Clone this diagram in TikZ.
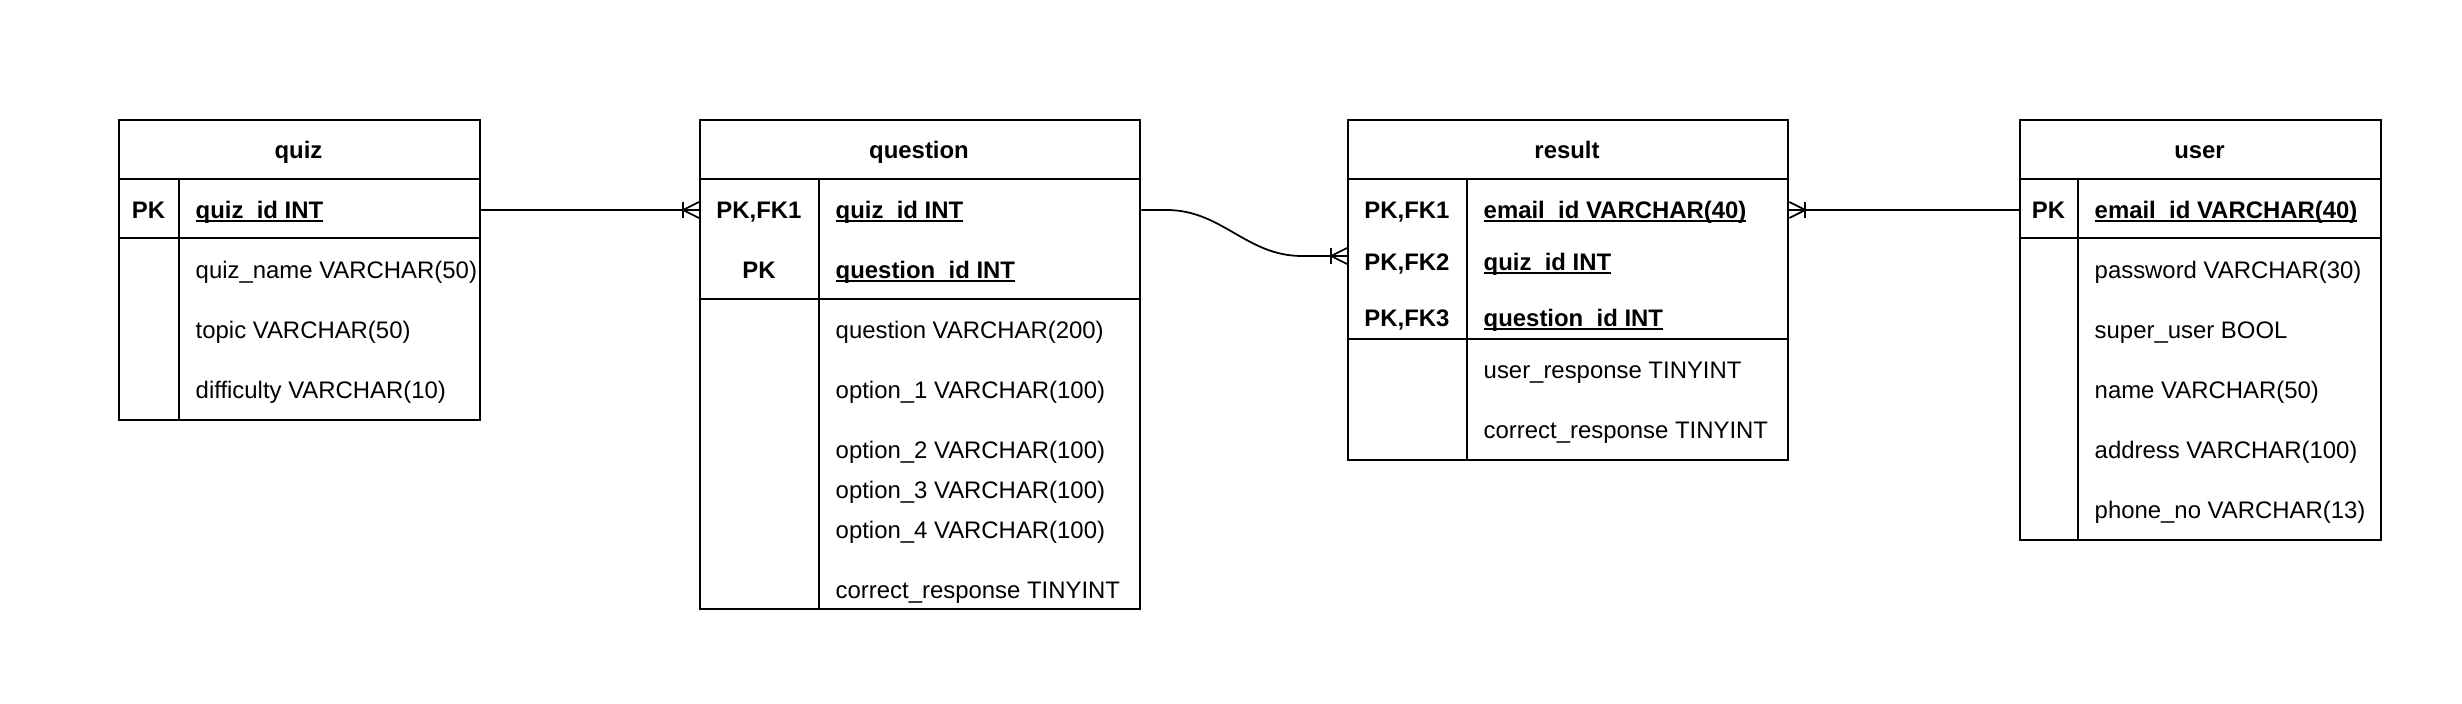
\documentclass[tikz,border=0pt]{standalone}
\usepackage{fontspec}
\setmainfont{Liberation Sans}
\usetikzlibrary{calc}

% underlined key name at a fixed depth
\newcommand{\ulkey}[1]{\setbox0=\hbox{#1}\rlap{\vrule width\wd0 height -0.5pt depth 1.05pt}\box0}

\tikzset{
  entity/.style={draw, line width=0.6pt, inner sep=0pt, anchor=north west},
  rowline/.style={line width=0.6pt},
  relline/.style={line width=0.5pt},
  tblhead/.style={font=\fontsize{6.8}{8}\selectfont\bfseries, inner sep=0pt, text height=0.167cm, text depth=0pt},
  field/.style={font=\fontsize{6.8}{8}\selectfont, inner sep=0pt, text height=0.167cm, text depth=0pt, anchor=west},
  keyfield/.style={field, font=\fontsize{6.8}{8}\selectfont\bfseries},
  crowfoot/.pic={
    \draw[relline] (-16,-8) -- (-16,8);
    \draw[relline] (0,-8) -- (-16,0) -- (0,8);
  }
}

\begin{document}
\begin{tikzpicture}[x=0.01cm, y=-0.01cm]
\useasboundingbox (0,0) rectangle (2462,704);

% quiz
\node[entity, minimum width=3.61cm, minimum height=3cm] (quiz) at (118,119) {};
\draw[rowline] (118,179) -- (479,179);
\draw[rowline] (118,238) -- (479,238);
\draw[rowline] (179,179) -- (179,419);
\node[tblhead] (quizhead) at (298.5,150) {quiz};
\node[tblhead] (quizpk) at (148.5,210) {PK};
\node[keyfield] (quizid) at (195,210) {\ulkey{quiz\_id INT}};
\node[field] (quizname) at (195,270) {quiz\_name VARCHAR(50)};
\node[field] (quiztopic) at (195,330) {topic VARCHAR(50)};
\node[field] (quizdiff) at (195,390) {difficulty VARCHAR(10)};

% question
\node[entity, minimum width=4.4cm, minimum height=4.89cm] (question) at (699,119) {};
\draw[rowline] (699,179) -- (1139,179);
\draw[rowline] (699,299) -- (1139,299);
\draw[rowline] (819,179) -- (819,608);
\node[tblhead] (qhead) at (919,150) {question};
\node[tblhead] (qpk) at (759,210) {PK,FK1};
\node[tblhead] (qpk2) at (759,270) {PK};
\node[keyfield] (qquizid) at (835,210) {\ulkey{quiz\_id INT}};
\node[keyfield] (qid) at (835,270) {\ulkey{question\_id INT}};
\node[field] (qtext) at (835,330) {question VARCHAR(200)};
\node[field] (qopt1) at (835,390) {option\_1 VARCHAR(100)};
\node[field] (qopt2) at (835,450) {option\_2 VARCHAR(100)};
\node[field] (qopt3) at (835,490) {option\_3 VARCHAR(100)};
\node[field] (qopt4) at (835,530) {option\_4 VARCHAR(100)};
\node[field] (qcorrect) at (835,590) {correct\_response TINYINT};

% result
\node[entity, minimum width=4.4cm, minimum height=3.4cm] (result) at (1347,119) {};
\draw[rowline] (1347,179) -- (1787,179);
\draw[rowline] (1347,339) -- (1787,339);
\draw[rowline] (1467,179) -- (1467,459);
\node[tblhead] (rhead) at (1567,150) {result};
\node[tblhead] (rpk1) at (1407,210) {PK,FK1};
\node[tblhead] (rpk2) at (1407,262) {PK,FK2};
\node[tblhead] (rpk3) at (1407,318) {PK,FK3};
\node[keyfield] (remail) at (1483,210) {\ulkey{email\_id VARCHAR(40)}};
\node[keyfield] (rquizid) at (1483,262) {\ulkey{quiz\_id INT}};
\node[keyfield] (rqid) at (1483,318) {\ulkey{question\_id INT}};
\node[field] (ruser) at (1483,370) {user\_response TINYINT};
\node[field] (rcorrect) at (1483,430) {correct\_response TINYINT};

% user
\node[entity, minimum width=3.61cm, minimum height=4.2cm] (user) at (2019,119) {};
\draw[rowline] (2019,179) -- (2380,179);
\draw[rowline] (2019,238) -- (2380,238);
\draw[rowline] (2078,179) -- (2078,539);
\node[tblhead] (uhead) at (2199.5,150) {user};
\node[tblhead] (upk) at (2048.5,210) {PK};
\node[keyfield] (uemail) at (2094,210) {\ulkey{email\_id VARCHAR(40)}};
\node[field] (upass) at (2094,270) {password VARCHAR(30)};
\node[field] (usuper) at (2094,330) {super\_user BOOL};
\node[field] (uname) at (2094,390) {name VARCHAR(50)};
\node[field] (uaddr) at (2094,450) {address VARCHAR(100)};
\node[field] (uphone) at (2094,510) {phone\_no VARCHAR(13)};

% relations
\draw[relline] (quizid -| quiz.east) -- (qpk -| question.west);
\pic at (qpk -| question.west) {crowfoot};
\draw[relline] (qquizid -| question.east) -- ++(25,0)
  to[out=0, in=180] ($(result.north west)+(-45,137)$) -- ($(result.north west)+(0,137)$);
\pic at ($(result.north west)+(0,137)$) {crowfoot};
\draw[relline] (upk -| user.west) -- (remail -| result.east);
\pic[rotate=180] at (remail -| result.east) {crowfoot};
\end{tikzpicture}
\end{document}
